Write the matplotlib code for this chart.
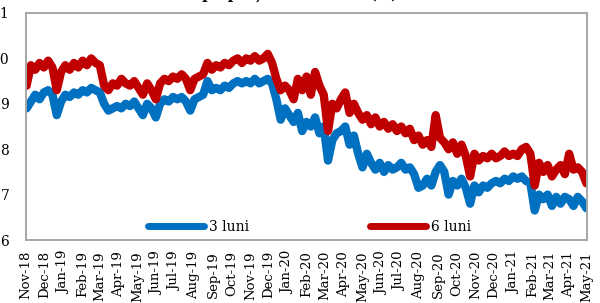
import numpy as np
import pandas as pd
import matplotlib
matplotlib.use('Agg')
import matplotlib.pyplot as plt
import matplotlib.dates as mdates

plt.rcParams['font.family'] = ['DejaVu Serif']

# weekly readings (Fridays), Nov-2018 .. Apr-2021
dates = pd.date_range('2018-11-02', periods=131, freq='W-FRI')

luni3 = [8.9, 9.05, 9.2, 9.1, 9.25, 9.3, 9.2, 8.75, 9.05, 9.2,
         9.15, 9.25, 9.2, 9.3, 9.25, 9.35, 9.3, 9.25, 9.0, 8.85,
         8.9, 8.95, 8.9, 9.0, 8.95, 9.05, 8.9, 8.75, 9.0, 8.9,
         8.7, 9.0, 9.1, 9.05, 9.15, 9.1, 9.15, 9.05, 8.85, 9.1,
         9.15, 9.2, 9.5, 9.3, 9.35, 9.3, 9.4, 9.35, 9.45, 9.5,
         9.45, 9.5, 9.45, 9.55, 9.45, 9.5, 9.55, 9.45, 9.1, 8.65,
         8.9, 8.75, 8.6, 8.8, 8.4, 8.6, 8.5, 8.7, 8.35, 8.5,
         7.75, 8.2, 8.35, 8.4, 8.5, 8.1, 8.3, 7.9, 7.6, 7.9,
         7.7, 7.55, 7.7, 7.5, 7.65, 7.55, 7.6, 7.7, 7.55, 7.6,
         7.45, 7.15, 7.2, 7.35, 7.2, 7.5, 7.65, 7.5, 7.0, 7.3,
         7.2, 7.35, 7.15, 6.8, 7.2, 7.05, 7.2, 7.15, 7.25, 7.3,
         7.25, 7.35, 7.3, 7.4, 7.35, 7.4, 7.3, 7.25, 6.65, 7.0,
         6.9, 7.0, 6.75, 6.95, 6.8, 6.95, 6.9, 6.75, 6.95, 6.85,
         6.7]

luni6 = [9.4, 9.85, 9.75, 9.9, 9.8, 9.95, 9.8, 9.3, 9.7, 9.85,
         9.75, 9.9, 9.8, 9.95, 9.85, 10.0, 9.9, 9.85, 9.4, 9.3,
         9.45, 9.4, 9.55, 9.45, 9.4, 9.5, 9.35, 9.2, 9.45, 9.3,
         9.1, 9.45, 9.55, 9.5, 9.6, 9.55, 9.65, 9.55, 9.3, 9.55,
         9.6, 9.65, 9.9, 9.75, 9.85, 9.8, 9.9, 9.85, 9.95, 10.0,
         9.9, 10.0, 9.95, 10.05, 9.95, 10.0, 10.1, 9.9, 9.55, 9.3,
         9.4, 9.3, 9.1, 9.55, 9.3, 9.6, 9.2, 9.7, 9.4, 9.2,
         8.4, 9.0, 8.9, 9.1, 9.25, 8.8, 9.0, 8.8, 8.65, 8.75,
         8.55, 8.7, 8.5, 8.6, 8.45, 8.55, 8.4, 8.5, 8.35, 8.45,
         8.2, 8.3, 8.1, 8.2, 8.05, 8.75, 8.25, 8.15, 8.0, 8.15,
         7.9, 8.1, 7.85, 7.4, 7.9, 7.75, 7.85, 7.8, 7.9, 7.8,
         7.85, 7.95, 7.85, 7.9, 7.85, 8.0, 8.05, 7.9, 7.2, 7.7,
         7.5, 7.65, 7.4, 7.55, 7.65, 7.45, 7.9, 7.55, 7.6, 7.5,
         7.25]

fig = plt.figure(figsize=(6.0, 3.03), dpi=100)
ax = fig.add_axes([26/600, 1-240/303, 561/600, 227/303])

ax.plot(dates, luni3, color='#0070C0', lw=6, solid_joinstyle='round',
        solid_capstyle='round', label='3 luni')
ax.plot(dates, luni6, color='#C00000', lw=6, solid_joinstyle='round',
        solid_capstyle='round', label='6 luni')

ax.set_xlim(pd.Timestamp('2018-11-01'), pd.Timestamp('2021-05-01'))
ax.set_ylim(6, 11)
ax.set_yticks([6, 7, 8, 9, 10, 11])
ax.xaxis.set_major_locator(mdates.MonthLocator())
ax.xaxis.set_major_formatter(mdates.DateFormatter('%b-%y'))
ax.tick_params(axis='x', length=0, pad=8, labelsize=9.5, labelrotation=90)
ax.tick_params(axis='y', length=0, pad=12, labelsize=10)

for s in ax.spines.values():
    s.set_color('#A6A6A6')
    s.set_linewidth(1.4)

leg = ax.legend(loc='center', bbox_to_anchor=(0.506, 0.057), ncol=2, frameon=False,
                fontsize=10, handlelength=4.0, handletextpad=0.4, columnspacing=8.7)
for h in leg.get_lines():
    h.set_linewidth(5)

# title sits mostly above the visible area
fig.text(0.5, 1 + 1/303, 'pe piața secundară (%)', ha='center', va='baseline',
         fontsize=11, fontweight='bold')

fig.savefig('out.png', dpi=100)
